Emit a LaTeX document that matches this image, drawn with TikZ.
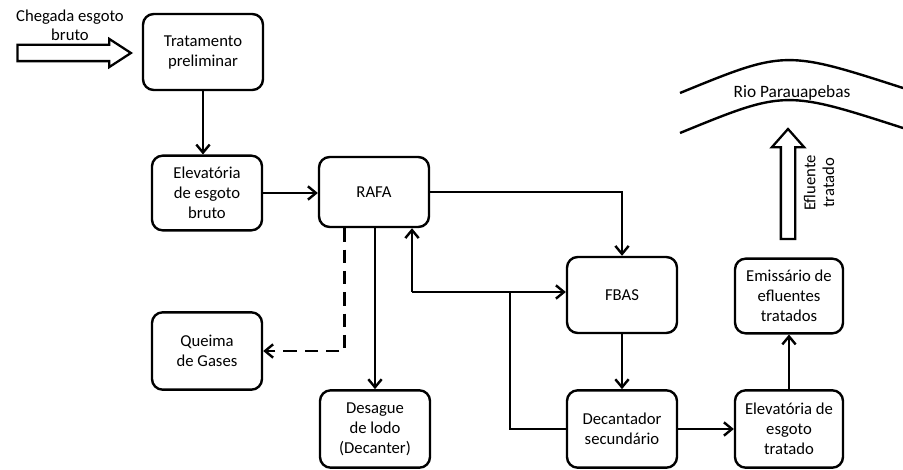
\documentclass[tikz,border=0pt]{standalone}
\usepackage{fontspec}
\setmainfont{Carlito}
\usetikzlibrary{arrows.meta,positioning,shapes.arrows}
\tikzset{
  etebox/.style={draw,line width=1.8pt,rounded corners=8pt,align=center,inner sep=2pt,minimum width=82.5pt,minimum height=56pt,font=\fontsize{12.5}{15}\selectfont},
  eteflow/.style={-{Straight Barb[length=6pt,width=10pt]},line width=1.8pt},
  eteline/.style={line width=1.8pt},
  etegas/.style={eteflow,dash pattern=on 10pt off 6pt},
  etebig/.style={draw,line width=1.7pt,single arrow,inner sep=0pt},
  etelabel/.style={align=center,inner sep=0pt,font=\fontsize{12.5}{14}\selectfont},
}
\begin{document}
\begin{tikzpicture}[x=0.75pt,y=-0.75pt]
\useasboundingbox (0,0) rectangle (903,470);
 % boxes of the treatment line
\node[etebox,minimum width=90pt,minimum height=57pt] (trat) at (203,52) {Tratamento\\preliminar};
\node[etebox] (elevb) at (207,193) {Elevatória\\de esgoto\\bruto};
\node[etebox,minimum height=52.5pt] (rafa) at (374,192) {RAFA};
\node[etebox,minimum height=58pt] (queima) at (207,351) {Queima\\de Gases};
\node[etebox,minimum height=58pt] (desague) at (375,429) {Desague\\de lodo\\(Decanter)};
\node[etebox,minimum height=57pt] (fbas) at (622,295) {FBAS};
\node[etebox,minimum height=58pt] (dec) at (622,429) {Decantador\\secundário};
\node[etebox,minimum width=81pt,minimum height=58pt] (elevt) at (789,429) {Elevatória de\\esgoto\\tratado};
\node[etebox,minimum width=81pt] (emis) at (789,296) {Emissário de\\efluentes\\tratados};
 % inlet and outlet
\node[etebig,minimum height=85pt,inner sep=5.25pt,single arrow head extend=4.5pt,single arrow tip angle=66] (entrada) at (68,53) {};
\node[etelabel] (chegada) at (70,25) {Chegada esgoto\\bruto};
\node[etebig,rotate=90,minimum height=82.5pt,inner sep=4.5pt,single arrow head extend=6.75pt,single arrow tip angle=83] (saida) at (788,188) {};
\node[etelabel,rotate=90] (efluente) at (819,183) {Efluente\\tratado};
 % river
\draw[eteline] (680,93) .. controls (785,50) .. (903,88);
\draw[eteline] (680,133) .. controls (785,90) .. (903,128);
\node[font=\fontsize{13}{15}\selectfont] (rio) at (792,93) {Rio Parauapebas};
 % connectors
\coordinate (rec) at (412,292);
\coordinate (tee) at (510,292);
\draw[eteflow] (trat.south) -- (trat.south |- elevb.north);
\draw[eteflow] (elevb.east) -- (elevb.east -| rafa.west);
\draw[eteflow] (rafa.east) -| (fbas.north);
\draw[etegas] ([xshift=-22pt]rafa.south) |- (queima.east);
\draw[eteflow] (desague.north |- rafa.south) -- (desague.north);
\draw[eteflow] (rec) -- (rec -| fbas.west);
\draw[eteflow] (rec) -- (rec |- rafa.south);
\draw[eteline] (dec.west) -| (tee);
\draw[eteflow] (fbas.south) -- (dec.north);
\draw[eteflow] (dec.east) -- (elevt.west);
\draw[eteflow] (elevt.north) -- (emis.south);
\end{tikzpicture}
\end{document}
